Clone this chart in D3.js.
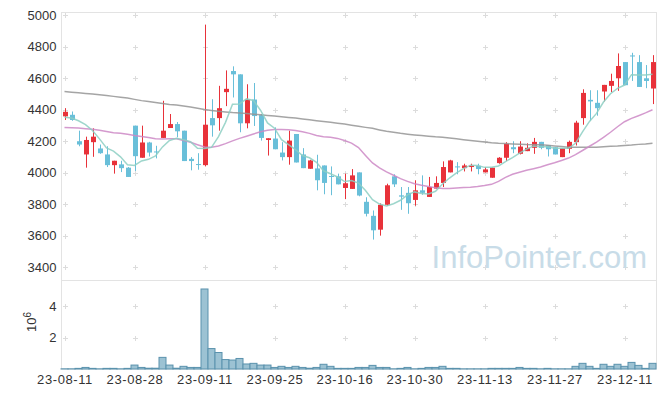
<!DOCTYPE html>
<html>
<head>
<meta charset="utf-8">
<script src="https://cdn.jsdelivr.net/npm/d3@7"></script>
<style>
  body { margin: 0; background: #fff; }
  text { font-family: "Liberation Sans", Arial, sans-serif; }
</style>
</head>
<body>
<div id="chart"></div>
<script>
var svgWidth = 665;
var svgHeight = 398;

// trading days
var dates = [
  "23-08-11","23-08-14","23-08-16","23-08-17","23-08-18","23-08-21","23-08-22","23-08-23","23-08-24","23-08-25",
  "23-08-28","23-08-29","23-08-30","23-08-31","23-09-01","23-09-04","23-09-05","23-09-06","23-09-07","23-09-08",
  "23-09-11","23-09-12","23-09-13","23-09-14","23-09-15","23-09-18","23-09-19","23-09-20","23-09-21","23-09-22",
  "23-09-25","23-09-26","23-09-27","23-10-04","23-10-05","23-10-06","23-10-10","23-10-11","23-10-12","23-10-13",
  "23-10-16","23-10-17","23-10-18","23-10-19","23-10-20","23-10-23","23-10-24","23-10-25","23-10-26","23-10-27",
  "23-10-30","23-10-31","23-11-01","23-11-02","23-11-03","23-11-06","23-11-07","23-11-08","23-11-09","23-11-10",
  "23-11-13","23-11-14","23-11-15","23-11-16","23-11-17","23-11-20","23-11-21","23-11-22","23-11-23","23-11-24",
  "23-11-27","23-11-28","23-11-29","23-11-30","23-12-01","23-12-04","23-12-05","23-12-06","23-12-07","23-12-08",
  "23-12-11","23-12-12","23-12-13","23-12-14","23-12-15"
];

var opens = [4358,4368,4200,4116,4194,4154,4116,4048,4053,4032, 4299,4095,4192,4135,4221,4284,4309,4267,4088,4055,
  4048,4347,4347,4512,4646,4625,4314,4465,4366,4208, 4217,4128,4099,4246,4116,4025,4027,4046,3979,3977,
  3903,3897,4002,3815,3726,3638,3796,3977,3856,3872, 3827,3888,3846,3899,3935,4002,4040,4029,4036,4044,
  4002,3968,4061,4095,4162,4120,4137,4158,4196,4175, 4162,4099,4152,4194,4347,4463,4444,4516,4552,4600,
  4703,4745,4703,4600,4535];
var highs = [4410,4389,4267,4229,4282,4179,4168,4076,4076,4036, 4299,4299,4196,4171,4457,4373,4322,4267,4099,4124,
  4941,4467,4552,4650,4676,4625,4562,4570,4373,4219, 4288,4194,4267,4246,4156,4082,4114,4046,4040,3994,
  3994,4023,4002,3844,3760,3805,3930,3990,3909,3909, 3952,3983,3973,3977,4072,4082,4067,4057,4057,4057,
  4036,4032,4099,4194,4200,4200,4187,4221,4196,4175, 4162,4156,4204,4330,4530,4524,4524,4558,4629,4758,
  4703,4762,4747,4684,4747];
var lows = [4335,4330,4168,4032,4101,4120,4036,3994,4004,3973, 4011,4095,4103,4091,4221,4284,4225,4074,4015,4019,
  4040,4229,4267,4423,4478,4257,4282,4297,4204,4109, 4149,4078,4051,4065,4029,4025,3888,3863,3857,3926,
  3832,3897,3850,3722,3575,3600,3790,3909,3764,3739, 3790,3860,3846,3899,3909,4002,3990,4008,4008,3990,
  4002,3968,4057,4074,4124,4116,4137,4120,4149,4103, 4116,4099,4124,4173,4305,4330,4362,4453,4512,4520,
  4556,4583,4545,4537,4436];
var closes = [4387,4335,4179,4208,4229,4124,4048,4076,4029,3973, 4105,4192,4128,4130,4267,4309,4263,4074,4074,4053,
  4305,4301,4410,4533,4625,4314,4465,4360,4221,4219, 4149,4099,4204,4065,4029,4078,3952,3935,3973,3926,
  3933,3983,3855,3739,3634,3796,3920,3926,3848,3806, 3888,3872,3909,3935,4036,4078,4036,4046,4046,4023,
  4021,4032,4095,4183,4149,4166,4158,4196,4158,4149, 4116,4156,4196,4318,4507,4453,4410,4558,4583,4678,
  4556,4741,4545,4583,4703];

// moving averages
var ma5 = [4352,4347,4330,4305,4268,4215,4158,4137,4101,4050, 4046,4075,4085,4106,4164,4205,4219,4209,4197,4155,
  4154,4161,4229,4320,4435,4437,4469,4459,4397,4316, 4283,4210,4178,4147,4109,4095,4066,4012,3993,3973,
  3944,3950,3934,3887,3829,3801,3789,3803,3825,3859, 3878,3868,3865,3882,3928,3966,3999,4026,4048,4046,
  4034,4034,4043,4071,4096,4125,4150,4170,4165,4165, 4155,4155,4155,4187,4259,4326,4377,4449,4502,4536,
  4557,4623,4621,4621,4626];
var ma20 = [4288,4286,4284,4280,4276,4270,4262,4254,4250,4244, 4236,4230,4224,4216,4214,4215,4215,4205,4194,4178,
  4163,4162,4170,4185,4202,4218,4232,4246,4260,4270, 4274,4275,4273,4268,4260,4250,4236,4228,4225,4218,
  4205,4188,4160,4110,4062,4030,4005,3984,3962,3945, 3930,3920,3912,3905,3900,3899,3903,3906,3908,3912,
  3918,3926,3945,3970,3990,4003,4015,4025,4036,4050, 4063,4078,4093,4115,4141,4168,4194,4225,4257,4292,
  4324,4345,4362,4380,4400];
var ma60 = [4516,4512,4508,4504,4500,4495,4490,4485,4480,4474, 4466,4458,4452,4446,4440,4434,4430,4424,4418,4410,
  4402,4396,4390,4386,4382,4380,4376,4372,4368,4364, 4360,4356,4351,4347,4342,4336,4330,4325,4320,4315,
  4309,4302,4295,4288,4282,4272,4263,4257,4250,4245, 4240,4236,4232,4228,4225,4220,4215,4210,4205,4200,
  4195,4190,4187,4185,4183,4181,4179,4178,4177,4174, 4170,4166,4162,4161,4161,4162,4162,4165,4168,4170,
  4173,4176,4180,4183,4187];

// volume, millions of shares
var volumes = [0.01,0.01,0.04,0.1,0.04,0.01,0.04,0.04,0.01,0.04, 0.25,0.1,0.05,0.05,0.74,0.25,0.05,0.17,0.1,0.1,
  5.09,1.3,1.05,0.6,0.57,0.67,0.32,0.36,0.25,0.25, 0.1,0.17,0.1,0.17,0.1,0.05,0.1,0.3,0.17,0.04,
  0.04,0.04,0.1,0.1,0.23,0.1,0.1,0.01,0.04,0.1, 0.01,0.04,0.1,0.1,0.17,0.04,0.04,0.01,0.01,0.01,
  0.01,0.04,0.04,0.04,0.04,0.1,0.04,0.04,0.01,0.04, 0.01,0.01,0.01,0.17,0.36,0.17,0.04,0.3,0.17,0.3,
  0.17,0.42,0.23,0.04,0.36];

var priceTicks = [3400,3600,3800,4000,4200,4400,4600,4800,5000];
var volumeTicks = [2,4];
var dateTicks = ["23-08-11","23-08-28","23-09-11","23-09-25","23-10-16","23-10-30","23-11-13","23-11-27","23-12-11"];

var plotLeft = 61.5, plotRight = 656.5;
var priceTop = 12.5, priceBottom = 280.5;
var volTop = 280.5, volBottom = 369;

var data = dates.map(function(d, i) {
  return {date: d, open: opens[i], high: highs[i], low: lows[i], close: closes[i],
          ma5: ma5[i], ma20: ma20[i], ma60: ma60[i], vol: volumes[i]};
});

var svg = d3.select("#chart")
  .append("svg")
  .attr("width", svgWidth)
  .attr("height", svgHeight);

var xScale = d3.scalePoint()
  .domain(dates)
  .range([plotLeft - 0.5, plotRight - 0.5])
  .padding(0.5);

var yPrice = d3.scaleLinear()
  .domain([3315, 5018])
  .range([priceBottom, priceTop]);

var yVol = d3.scaleLinear()
  .domain([0, 5.63])
  .range([volBottom, volTop]);

// grid crosses
var grid = svg.append("g").attr("stroke", "#dcdcdc").attr("stroke-width", 1);
function cross(x, y) {
  grid.append("line").attr("x1", x - 2.5).attr("x2", x + 2.5).attr("y1", y).attr("y2", y);
  grid.append("line").attr("x1", x).attr("x2", x).attr("y1", y - 2.5).attr("y2", y + 2.5);
}
dateTicks.forEach(function(d) {
  var x = Math.round(xScale(d)) + 0.5;
  priceTicks.forEach(function(p) { cross(x, Math.round(yPrice(p)) + 0.5); });
  volumeTicks.forEach(function(v) { cross(x, Math.round(yVol(v)) + 0.5); });
});

// panel frame
var frame = svg.append("g").attr("stroke", "#e3e3e3").attr("stroke-width", 1).attr("fill", "none");
frame.append("rect").attr("x", plotLeft).attr("y", priceTop)
  .attr("width", plotRight - plotLeft).attr("height", volBottom - priceTop);
frame.append("line").attr("x1", plotLeft).attr("x2", plotRight).attr("y1", volTop).attr("y2", volTop);

// watermark
svg.append("text")
  .attr("x", 647)
  .attr("y", 268)
  .attr("text-anchor", "end")
  .attr("font-size", "31px")
  .attr("fill", "#c8dce8")
  .text("InfoPointer.com");

// volume bars
var step = xScale.step();
svg.append("g")
  .selectAll("rect")
  .data(data)
  .enter()
  .append("rect")
  .attr("x", d => xScale(d.date) - step / 2)
  .attr("y", d => yVol(d.vol))
  .attr("width", step)
  .attr("height", d => volBottom - yVol(d.vol))
  .attr("fill", "#9cc2d3")
  .attr("stroke", "#5a92ad")
  .attr("stroke-width", 1);

// candles
var candles = svg.append("g")
  .selectAll("g")
  .data(data)
  .enter()
  .append("g");

candles.append("line")
  .attr("x1", d => Math.round(xScale(d.date)) + 0.5)
  .attr("x2", d => Math.round(xScale(d.date)) + 0.5)
  .attr("y1", d => yPrice(d.high))
  .attr("y2", d => yPrice(d.low))
  .attr("stroke", d => d.close >= d.open ? "#e8323a" : "#69bfd9")
  .attr("stroke-width", 1);

candles.append("rect")
  .attr("x", d => Math.round(xScale(d.date)) - 2)
  .attr("y", d => yPrice(Math.max(d.open, d.close)))
  .attr("width", 5)
  .attr("height", d => Math.max(1, Math.abs(yPrice(d.open) - yPrice(d.close))))
  .attr("fill", d => d.close >= d.open ? "#e8323a" : "#69bfd9");

// moving averages
function maLine(key, color) {
  var line = d3.line()
    .x(d => xScale(d.date))
    .y(d => yPrice(d[key]));
  svg.append("path")
    .datum(data)
    .attr("d", line)
    .attr("fill", "none")
    .attr("stroke", color)
    .attr("stroke-width", 1.5)
    .attr("stroke-opacity", 0.85);
}
maLine("ma60", "#959595");
maLine("ma20", "#cc88c6");
maLine("ma5", "#8dcfc3");

// axes
var yAxis = svg.append("g")
  .attr("transform", `translate(${plotLeft - 5}, 0)`)
  .call(d3.axisLeft(yPrice).tickValues(priceTicks).tickFormat(d3.format("d")).tickSize(0).tickPadding(0));
var vAxis = svg.append("g")
  .attr("transform", `translate(${plotLeft - 5}, 0)`)
  .call(d3.axisLeft(yVol).tickValues(volumeTicks).tickFormat(d3.format("d")).tickSize(0).tickPadding(0));
var xAxis = svg.append("g")
  .attr("transform", `translate(0, ${volBottom + 6})`)
  .call(d3.axisBottom(xScale).tickValues(dateTicks).tickSize(0).tickPadding(0));

[yAxis, vAxis, xAxis].forEach(function(ax) {
  ax.select(".domain").remove();
  ax.selectAll("text")
    .attr("font-size", "13px")
    .attr("font-family", "'Liberation Sans', Arial, sans-serif")
    .attr("fill", "#333");
});
xAxis.selectAll("text").attr("letter-spacing", "0.6px");

// volume unit label
var unit = svg.append("text")
  .attr("transform", "translate(36, 322) rotate(-90)")
  .attr("text-anchor", "middle")
  .attr("font-size", "13px")
  .attr("fill", "#333");
unit.append("tspan").text("10");
unit.append("tspan").attr("dy", -5).attr("font-size", "10px").text("6");
</script>
</body>
</html>
